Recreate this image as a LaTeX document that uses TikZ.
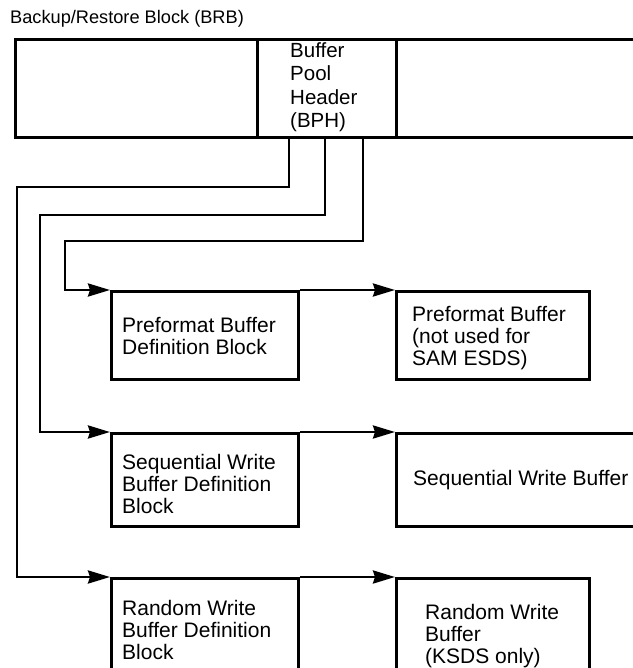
\documentclass[tikz,border=0pt]{standalone}
\usepackage{fontspec}
\setmainfont{Liberation Sans}
\usetikzlibrary{arrows.meta}
\begin{document}
\begin{tikzpicture}[x=1pt,y=-1pt,
  box/.style={draw, line width=2.8pt, rectangle, inner sep=0pt, anchor=north west},
  txt/.style={anchor=north west, align=left, inner sep=0pt, font=\fontsize{21}{22}\selectfont},
  conn/.style={line width=2.8pt},
  arr/.style={conn, -{Stealth[length=22pt,width=13pt,inset=2pt]}}]
\useasboundingbox (0,0) rectangle (632,668);
% title
\node[anchor=west, inner sep=0pt, font=\fontsize{18.2}{20}\selectfont] (title) at (10,19) {Backup/Restore Block (BRB)};
% top block
\node[box, minimum width=700, minimum height=98] (brb) at (14,38) {};
\node[box, minimum width=139, minimum height=98] (bph) at (256,38) {};
\node[txt, font=\fontsize{20.5}{23.5}\selectfont] (bpht) at (290,42) {Buffer\\Pool\\Header\\(BPH)};
% row 1
\node[box, minimum width=187, minimum height=88] (pbd) at (110,290) {};
\node[txt] (pbdt) at (122,317) {Preformat Buffer\\Definition Block};
\node[box, minimum width=193, minimum height=88] (pb) at (395,290) {};
\node[txt] (pbt) at (412,306) {Preformat Buffer\\(not used for\\SAM ESDS)};
% row 2
\node[box, minimum width=187, minimum height=93] (swbd) at (110,432) {};
\node[txt] (swbdt) at (122,454) {Sequential Write\\Buffer Definition\\Block};
\node[box, minimum width=400, minimum height=93] (swb) at (395,432) {};
\node[txt] (swbt) at (413,470) {Sequential Write Buffer};
% row 3
\node[box, minimum width=187, minimum height=150] (rwbd) at (110,577) {};
\node[txt] (rwbdt) at (122,600) {Random Write\\Buffer Definition\\Block};
\node[box, minimum width=193, minimum height=150] (rwb) at (395,577) {};
\node[txt] (rwbt) at (425,604) {Random Write\\Buffer\\(KSDS only)};
% connectors from BPH
\coordinate (s1) at ([xshift=33pt]bph.south west);
\coordinate (s2) at ([xshift=69pt]bph.south west);
\coordinate (s3) at ([xshift=107pt]bph.south west);
\coordinate (c1) at (17,187);
\coordinate (c2) at (40,215);
\coordinate (c3) at (65,241);
\draw[arr] (s1) |- (c1) -- (c1 |- rwbd.north) -- (rwbd.north west);
\draw[arr] (s2) |- (c2) -- (c2 |- swbd.north) -- (swbd.north west);
\draw[arr] (s3) |- (c3) -- (c3 |- pbd.north) -- (pbd.north west);
% row arrows
\draw[arr] (pbd.north east) -- (pb.north west);
\draw[arr] (swbd.north east) -- (swb.north west);
\draw[arr] (rwbd.north east) -- (rwb.north west);
\end{tikzpicture}
\end{document}
